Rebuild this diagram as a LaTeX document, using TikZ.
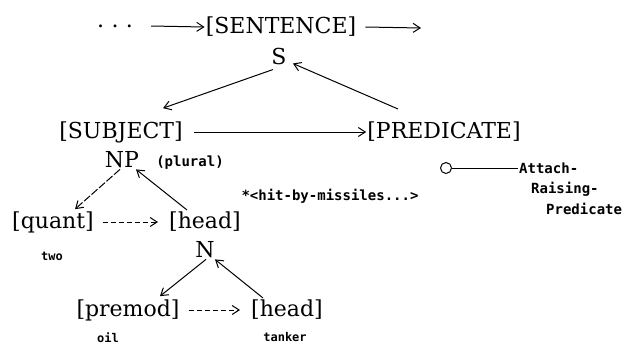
\documentclass[tikz,border=0pt]{standalone}
\usepackage{fontspec}
\setmainfont{DejaVu Serif}
\setmonofont{DejaVu Sans Mono}
\usetikzlibrary{arrows.meta}
\tikzset{cat/.style={inner sep=1pt, font=\fontsize{22}{24}\selectfont}}
\tikzset{feat/.style={inner sep=1pt, font=\ttfamily\bfseries\fontsize{14}{15}\selectfont}}
\tikzset{word/.style={inner sep=1pt, font=\ttfamily\bfseries\fontsize{12}{13}\selectfont}}
\tikzset{link/.style={-{Straight Barb[length=7pt, width=9pt]}, line width=1pt}}
\tikzset{seq/.style={link, dash pattern=on 5pt off 3pt}}

\begin{document}
\begin{tikzpicture}[x=1pt, y=-1pt]
    \useasboundingbox[fill=white] (0,0) rectangle (634,349);
    \node[cat] (dots) at (115,26) {.\,\,.\,\,.};
    \node[cat] (sent) at (281,27) {[SENTENCE]};
    \coordinate (out) at (421,28);
    \node[cat] (s) at (279,56) {S};
    \node[cat] (subj) at (121,132) {[SUBJECT]};
    \node[cat] (pred) at (444,132) {[PREDICATE]};
    \node[cat] (np) at (122,160) {NP};
    \node[feat] (plural) at (190,163) {(plural)};
    \node[cat] (quant) at (53,222) {[quant]};
    \node[cat] (head1) at (205,222) {[head]};
    \node[word] (two) at (52,256) {two};
    \node[cat] (n) at (205,250) {N};
    \node[cat] (premod) at (128,310) {[premod]};
    \node[cat] (head2) at (287,310) {[head]};
    \node[word] (oil) at (108,338) {oil};
    \node[word] (tanker) at (285,337) {tanker};
    \node[draw, circle, minimum size=11pt, inner sep=0pt, line width=1pt] (o) at (446,168) {};
    \node[feat, anchor=west] (attach) at (518,168) {Attach-};
    \node[feat, anchor=west] (raising) at (530,189) {Raising-};
    \node[feat, anchor=west] (predicate) at (545,209) {Predicate};
    \node[feat] (hit) at (330,196) {*<hit-by-missiles...>};
    \draw[link] ([xshift=17pt]dots.east) -- (sent.west);
    \draw[link] ([xshift=8pt]sent.east) -- (out);
    \draw[link] ([shift={(-6pt,-4pt)}]s.south) -- ([shift={(42pt,12pt)}]subj.north);
    \draw[link] ([shift={(-46pt,12pt)}]pred.north) -- ([shift={(14pt,2pt)}]s.south);
    \draw[link] ([xshift=10pt]subj.east) -- (pred.west);
    \draw[link, dash pattern=on 8pt off 2pt] ([xshift=-2pt]np.south) -- ([shift={(22pt,1pt)}]quant.north);
    \draw[link] ([shift={(-18pt,1pt)}]head1.north) -- ([xshift=14pt]np.south);
    \draw[seq] ([xshift=8pt]quant.east) -- ([xshift=-10pt]head1.west);
    \draw[link] ([xshift=1pt]n.south) -- ([shift={(32pt,2pt)}]premod.north);
    \draw[link] ([shift={(-24pt,1pt)}]head2.north) -- ([xshift=10pt]n.south);
    \draw[seq] ([xshift=8pt]premod.east) -- ([xshift=-10pt]head2.west);
    \draw[line width=1pt] (o) -- (attach);
\end{tikzpicture}
\end{document}
